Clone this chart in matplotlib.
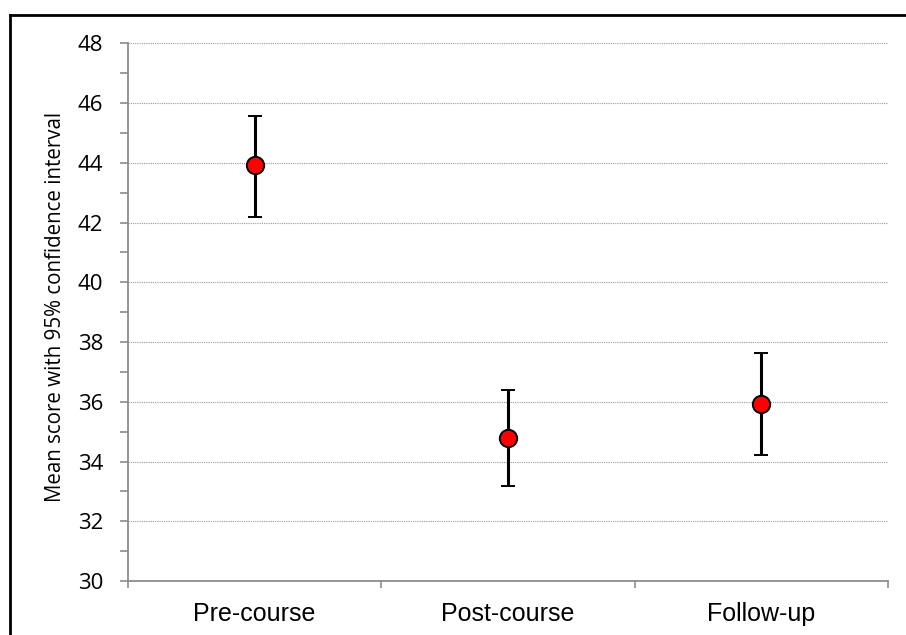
import matplotlib
matplotlib.use("Agg")
import matplotlib.pyplot as plt
from matplotlib.lines import Line2D
from matplotlib.ticker import MultipleLocator, FixedLocator, NullFormatter

# values
categories = ["Pre-course", "Post-course", "Follow-up"]
means = [43.92, 34.78, 35.93]
ci_low = [42.20, 33.17, 34.22]
ci_high = [45.57, 36.39, 37.63]

GRAY = "#8c8c8c"

fig = plt.figure(figsize=(9.06, 6.35), dpi=100)
ax = fig.add_axes([128 / 906, 54 / 635, 760 / 906, 537.7 / 635])

x = list(range(len(categories)))
yerr = [[m - lo for m, lo in zip(means, ci_low)],
        [hi - m for m, hi in zip(means, ci_high)]]
ax.errorbar(x, means, yerr=yerr, fmt="o", ms=12.5, mfc="#ff0000", mec="black",
            mew=1.4, ecolor="black", elinewidth=2.2, capsize=5, capthick=2.2,
            zorder=5)

ax.set_xlim(-0.5, 2.5)
ax.set_ylim(30, 48)
ax.yaxis.set_major_locator(MultipleLocator(2))
ax.yaxis.set_minor_locator(MultipleLocator(1))
ax.grid(axis="y", which="major", color="#9a9a9a", ls=(0, (1, 1)), lw=0.8)
ax.set_axisbelow(True)

# category boundaries get the ticks, centres get the labels
ax.xaxis.set_major_locator(FixedLocator([-0.5, 0.5, 1.5, 2.5]))
ax.xaxis.set_major_formatter(NullFormatter())
ax.xaxis.set_minor_locator(FixedLocator(x))
ax.set_xticklabels(categories, minor=True, fontsize=18,
                   family=["Liberation Sans", "DejaVu Sans"])
ax.tick_params(axis="x", which="major", direction="out", length=5, width=1.2,
               color=GRAY)
ax.tick_params(axis="x", which="minor", length=0, pad=15)
ax.tick_params(axis="y", which="both", direction="out", length=6, width=1.2,
               color=GRAY)
ax.tick_params(axis="y", which="major", pad=12, labelsize=16)
for lab in ax.get_yticklabels():
    lab.set_family(["Open Sans", "DejaVu Sans"])

for sp in ("top", "right"):
    ax.spines[sp].set_visible(False)
for sp in ("left", "bottom"):
    ax.spines[sp].set_color(GRAY)
    ax.spines[sp].set_linewidth(1.3)

ax.set_ylabel("Mean score with 95% confidence interval", fontsize=14.8,
              family=["Open Sans", "DejaVu Sans"])
ax.yaxis.set_label_coords(-0.082, 0.509)

# frame of the original picture (right and bottom edges cropped away)
fig.add_artist(Line2D([10 / 906, 10 / 906], [0, 1 - 15 / 635],
                      transform=fig.transFigure, color="black", lw=2))
fig.add_artist(Line2D([10 / 906, 1], [1 - 15 / 635, 1 - 15 / 635],
                      transform=fig.transFigure, color="black", lw=2))

fig.savefig("out.png", dpi=100)
